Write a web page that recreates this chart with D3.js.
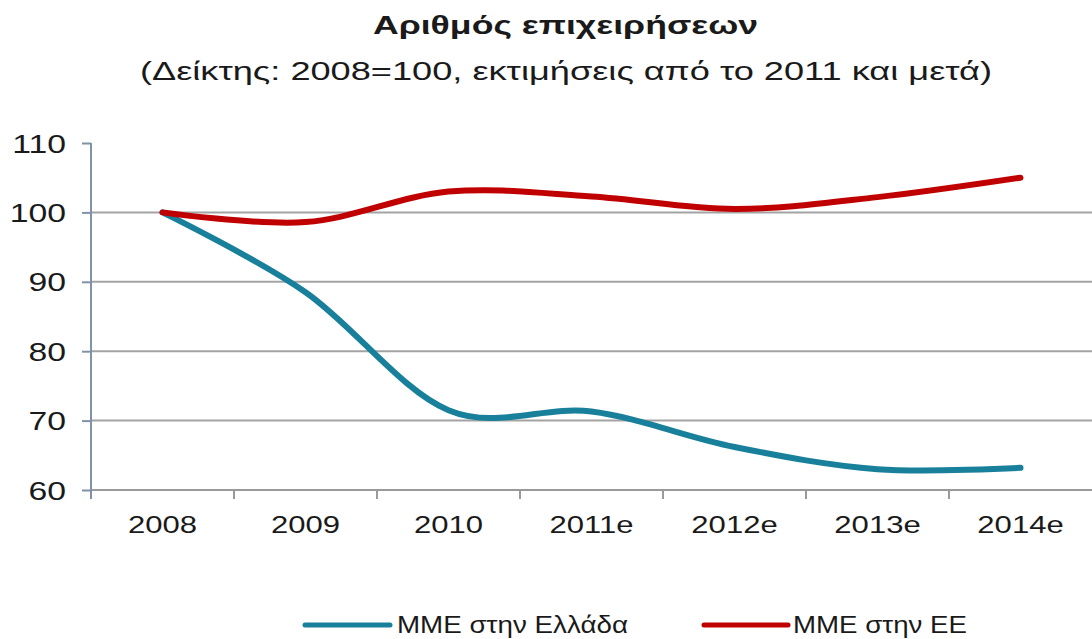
<!DOCTYPE html>
<html>
<head>
<meta charset="utf-8">
<script src="https://cdn.jsdelivr.net/npm/d3@7/dist/d3.min.js"></script>
<style>
  html, body { margin: 0; padding: 0; background: #fff; }
  svg { display: block; }
  text { font-family: "Liberation Sans", Arial, sans-serif; fill: #1a1a1a; }
</style>
</head>
<body>
<svg id="chart" width="1092" height="639"></svg>
<script>
// Index of number of enterprises (2008 = 100)
const categories = ["2008", "2009", "2010", "2011e", "2012e", "2013e", "2014e"];
const greeceSME = [100, 88.5, 71.5, 71.3, 66.2, 63.0, 63.2];
const euSME     = [100, 98.6, 103.0, 102.3, 100.5, 102.2, 105.0];
const yTicks = [60, 70, 80, 90, 100, 110];
const seriesNames = ["ΜΜΕ στην Ελλάδα", "ΜΜΕ στην ΕΕ"];
const seriesColors = ["#18809a", "#c00000"];

const svg = d3.select("#chart");
const plot = { left: 91, right: 1092, top: 143, bottom: 490 };
const SX = 1.35; // horizontal text stretch

const x = d3.scaleBand().domain(categories).range([plot.left, plot.right]);
const y = d3.scaleLinear().domain([60, 110]).range([plot.bottom, plot.top]);
const cx = c => x(c) + x.bandwidth() / 2;

// Titles
svg.append("text")
  .attr("x", 565.5).attr("y", 34)
  .attr("text-anchor", "middle")
  .attr("font-size", 25).attr("font-weight", "bold")
  .attr("textLength", 385).attr("lengthAdjust", "spacingAndGlyphs")
  .text("Αριθμός επιχειρήσεων");
svg.append("text")
  .attr("x", 566).attr("y", 80)
  .attr("text-anchor", "middle")
  .attr("font-size", 26)
  .attr("textLength", 852).attr("lengthAdjust", "spacingAndGlyphs")
  .text("(Δείκτης: 2008=100, εκτιμήσεις από το 2011 και μετά)");

// Horizontal gridlines (70..100)
svg.append("g")
  .selectAll("line")
  .data(yTicks.filter(v => v > 60 && v < 110))
  .join("line")
  .attr("x1", plot.left).attr("x2", plot.right)
  .attr("y1", d => y(d)).attr("y2", d => y(d))
  .attr("stroke", "#a3a3a3").attr("stroke-width", 2);

// X axis baseline and category separators
svg.append("line")
  .attr("x1", plot.left).attr("x2", plot.right)
  .attr("y1", y(60)).attr("y2", y(60))
  .attr("stroke", "#9a9a9a").attr("stroke-width", 2);
svg.append("g")
  .selectAll("line")
  .data(categories.slice(1))
  .join("line")
  .attr("x1", d => x(d)).attr("x2", d => x(d))
  .attr("y1", y(60)).attr("y2", y(60) + 9)
  .attr("stroke", "#9a9a9a").attr("stroke-width", 2);

// X labels
svg.append("g")
  .selectAll("text")
  .data(categories)
  .join("text")
  .attr("transform", d => `translate(${cx(d)},533) scale(${SX},1)`)
  .attr("text-anchor", "middle")
  .attr("font-size", 23)
  .text(d => d);

// Y axis
const yAxis = svg.append("g")
  .attr("transform", `translate(${plot.left},0)`)
  .call(d3.axisLeft(y).tickValues(yTicks).tickSize(9).tickPadding(0).tickFormat(d3.format("d")));
yAxis.select(".domain").remove();
yAxis.selectAll(".tick line").attr("stroke", "#7f93a8").attr("stroke-width", 2);
yAxis.selectAll(".tick text")
  .attr("font-size", 25)
  .attr("fill", "#1a1a1a")
  .attr("x", null).attr("dy", null)
  .attr("text-anchor", "end")
  .attr("transform", `translate(-25,9) scale(${SX},1)`);
svg.append("line")
  .attr("x1", plot.left).attr("x2", plot.left)
  .attr("y1", plot.top).attr("y2", y(60) + 9)
  .attr("stroke", "#7f93a8").attr("stroke-width", 2);

// Series lines (smoothed)
const line = d3.line()
  .x((d, i) => cx(categories[i]))
  .y(d => y(d))
  .curve(d3.curveCardinal.tension(0));

[greeceSME, euSME].forEach((vals, i) => {
  svg.append("path")
    .datum(vals)
    .attr("d", line)
    .attr("fill", "none")
    .attr("stroke", seriesColors[i])
    .attr("stroke-width", 6)
    .attr("stroke-linecap", "round")
    .attr("stroke-linejoin", "round");
});

// Legend
const legendItems = [
  { x1: 305, x2: 390, tx: 397, len: 231 },
  { x1: 704, x2: 788, tx: 793, len: 174 }
];
legendItems.forEach((it, i) => {
  svg.append("line")
    .attr("x1", it.x1).attr("x2", it.x2)
    .attr("y1", 625).attr("y2", 625)
    .attr("stroke", seriesColors[i]).attr("stroke-width", 5)
    .attr("stroke-linecap", "round");
  svg.append("text")
    .attr("x", it.tx).attr("y", 633)
    .attr("font-size", 24)
    .attr("textLength", it.len).attr("lengthAdjust", "spacingAndGlyphs")
    .text(seriesNames[i]);
});
</script>
</body>
</html>
